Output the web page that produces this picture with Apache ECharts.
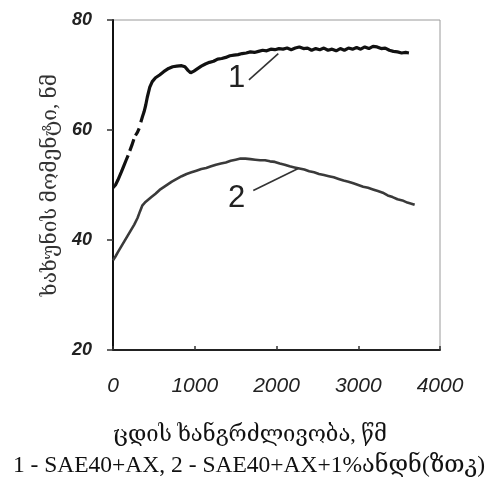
<!DOCTYPE html>
<html>
<head>
<meta charset="utf-8">
<script src="https://cdn.jsdelivr.net/npm/echarts@6/dist/echarts.min.js"></script>
<style>
html, body {margin: 0; padding: 0; background: #fff;}
#chart-holder {width: 488px; height: 481px;}
</style>
</head>
<body>
<div id="chart-holder"></div>
<script type="text/javascript">
// curve 1 - SAE40+AX
var time1 = [0, 30, 60, 100, 130, 160, 185, 195, 205, 230, 255, 265, 275, 300, 320, 330, 340, 360, 380, 400, 420, 450, 480, 520, 570, 620, 680, 730, 780, 840, 880, 920, 950, 990, 1030, 1080, 1130, 1180, 1230, 1280, 1330, 1380, 1430, 1480, 1530, 1580, 1630, 1680, 1730, 1780, 1830, 1880, 1930, 1980, 2030, 2080, 2130, 2180, 2230, 2280, 2330, 2380, 2430, 2480, 2530, 2580, 2630, 2680, 2730, 2780, 2830, 2880, 2930, 2980, 3030, 3080, 3130, 3180, 3230, 3280, 3330, 3380, 3430, 3480, 3530, 3580, 3620];
var torque1 = [49.5, 50.0, 50.9, 52.3, 53.4, 54.5, 55.4, null, 56.2, 57.2, 58.3, null, 59.0, 59.6, 60.3, null, 61.4, 62.4, 63.3, 64.5, 66.0, 67.8, 68.8, 69.5, 70.0, 70.6, 71.2, 71.5, 71.6, 71.7, 71.5, 70.8, 70.4, 70.7, 71.1, 71.6, 72.0, 72.3, 72.5, 72.9, 73.0, 73.2, 73.5, 73.6, 73.7, 73.9, 74.0, 74.2, 74.1, 74.3, 74.5, 74.4, 74.7, 74.6, 74.8, 74.7, 74.9, 74.6, 74.9, 75.1, 74.8, 74.9, 74.5, 74.8, 74.6, 74.9, 74.5, 74.7, 74.4, 74.8, 74.5, 74.9, 74.7, 75.0, 74.7, 75.1, 74.8, 75.2, 75.1, 74.8, 74.9, 74.5, 74.3, 74.2, 74.0, 74.1, 74.0];
// curve 2 - SAE40+AX+1%
var time2 = [0, 30, 60, 100, 140, 180, 220, 260, 300, 330, 360, 390, 430, 470, 520, 570, 620, 670, 720, 780, 840, 900, 960, 1020, 1080, 1140, 1200, 1260, 1320, 1380, 1440, 1500, 1560, 1620, 1680, 1740, 1800, 1860, 1920, 1980, 2040, 2100, 2160, 2220, 2280, 2340, 2400, 2460, 2520, 2580, 2640, 2700, 2760, 2820, 2880, 2940, 3000, 3060, 3120, 3180, 3240, 3300, 3360, 3420, 3480, 3540, 3600, 3650, 3690];
var torque2 = [36.3, 37.0, 37.8, 38.8, 39.8, 40.8, 41.8, 42.8, 44.0, 45.2, 46.3, 46.8, 47.3, 47.8, 48.4, 49.1, 49.6, 50.1, 50.6, 51.1, 51.6, 52.0, 52.3, 52.6, 52.9, 53.1, 53.4, 53.7, 53.9, 54.1, 54.4, 54.6, 54.8, 54.8, 54.7, 54.6, 54.5, 54.5, 54.3, 54.2, 53.9, 53.7, 53.4, 53.2, 53.0, 52.8, 52.5, 52.3, 52.0, 51.8, 51.6, 51.4, 51.1, 50.8, 50.6, 50.3, 50.0, 49.7, 49.5, 49.2, 48.9, 48.6, 48.1, 47.8, 47.4, 47.2, 46.8, 46.6, 46.4];

var yTicks = [20, 40, 60, 80];
var xTicks = [0, 1000, 2000, 3000, 4000];

var yTitle = 'ხახუნის მომენტი, ნმ';
var xTitle = 'ცდის ხანგრძლივობა, წმ';
var legendText = '1 - SAE40+AX, 2 - SAE40+AX+1%ანდნ(ზთკ)';

function pairs(xs, ys) {
	return xs.map(function(x, i){
		return [x, ys[i] === null ? '-' : ys[i]];
	});
}

var serif = '"Liberation Serif", "DejaVu Serif", serif';
var sans = '"Liberation Sans", Arial, sans-serif';

var option = {
	animation: false,
	backgroundColor: '#fff',
	grid: {
		left: 113,
		right: 48,
		top: 20,
		bottom: 131,
		show: true,
		borderColor: '#9a9a9a',
		borderWidth: 1
	},
	xAxis: {
		type: 'value',
		min: xTicks[0],
		max: xTicks[xTicks.length - 1],
		interval: 1000,
		axisLine: {show: true, lineStyle: {color: '#222', width: 2}},
		axisTick: {show: true, inside: true, length: 4, lineStyle: {color: '#333', width: 1.5}},
		splitLine: {show: false},
		axisLabel: {
			margin: 26,
			color: '#222',
			fontFamily: sans,
			fontStyle: 'italic',
			fontSize: 21,
			formatter: function(v){ return String(v); }
		}
	},
	yAxis: {
		type: 'value',
		min: yTicks[0],
		max: yTicks[yTicks.length - 1],
		interval: 20,
		name: yTitle,
		nameLocation: 'middle',
		nameGap: 52,
		nameTextStyle: {fontFamily: serif, fontSize: 21, color: '#333'},
		axisLine: {show: true, lineStyle: {color: '#111', width: 2}},
		axisTick: {show: true, inside: false, length: 6, lineStyle: {color: '#333', width: 1.5}},
		splitLine: {show: false},
		axisLabel: {
			margin: 21,
			color: '#222',
			fontFamily: sans,
			fontStyle: 'italic',
			fontWeight: 'bold',
			fontSize: 18
		}
	},
	series: [
		{
			type: 'line',
			data: pairs(time1, torque1),
			showSymbol: false,
			connectNulls: false,
			lineStyle: {color: '#111', width: 3.2},
			markLine: {
				silent: true,
				symbol: 'none',
				label: {show: false},
				lineStyle: {color: '#333', width: 1.6, type: 'solid'},
				data: [[{coord: [1663, 69.1]}, {coord: [2022, 73.9]}]]
			},
			markPoint: {
				symbol: 'circle',
				symbolSize: 0,
				label: {show: true, formatter: '1', fontFamily: sans, fontSize: 31, color: '#222', position: 'inside'},
				data: [{coord: [1513, 69.4]}]
			}
		},
		{
			type: 'line',
			data: pairs(time2, torque2),
			showSymbol: false,
			lineStyle: {color: '#3a3a3a', width: 2.6},
			markLine: {
				silent: true,
				symbol: 'none',
				label: {show: false},
				lineStyle: {color: '#333', width: 1.6, type: 'solid'},
				data: [[{coord: [1716, 49.0]}, {coord: [2266, 53.0]}]]
			},
			markPoint: {
				symbol: 'circle',
				symbolSize: 0,
				label: {show: true, formatter: '2', fontFamily: sans, fontSize: 31, color: '#222', position: 'inside'},
				data: [{coord: [1513, 47.5]}]
			}
		}
	],
	graphic: [
		{
			type: 'text',
			x: 250,
			y: 424,
			style: {text: xTitle, font: '22px ' + serif, fill: '#111', textAlign: 'center', textVerticalAlign: 'top'}
		},
		{
			type: 'text',
			x: 249,
			y: 454,
			style: {text: legendText, font: '23.5px ' + serif, fill: '#111', textAlign: 'center', textVerticalAlign: 'top'}
		}
	]
};

var myChart = echarts.init(document.getElementById('chart-holder'), null, {renderer: 'canvas'});
myChart.setOption(option);
</script>
</body>
</html>
